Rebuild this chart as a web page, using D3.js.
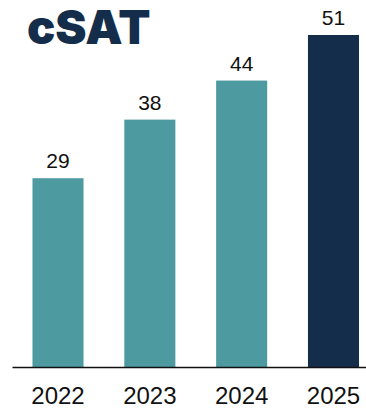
<!DOCTYPE html>
<meta charset="utf-8">
<style>
    body { margin: 0; background: #fff; }
    .title { font-family: Inter, "Liberation Sans", sans-serif; font-weight: 900; fill: #132d4a; }
    .val { font-family: "Liberation Sans", Arial, sans-serif; font-size: 21px; fill: #111; }
    .axis text { font-family: "Liberation Sans", Arial, sans-serif; font-size: 24px; fill: #111; }
    .axis path { stroke: #111; stroke-width: 1.5; }
</style>
<svg width="366" height="409"></svg>
<script src="https://d3js.org/d3.v7.min.js"></script>
<script>

    var years = ["2022", "2023", "2024", "2025"];
    var scores = [29, 38, 44, 51];
    var colors = ["#4e9aa1", "#4e9aa1", "#4e9aa1", "#142d4a"];

    var svg = d3.select("svg"),
        baseY = 367;

    var x = d3.scaleBand()
        .domain(years)
        .range([12, 379.5])
        .paddingInner(0.444)
        .paddingOuter(0.223);

    var y = d3.scaleLinear()
        .domain([0, 51])
        .range([baseY, 35]);

    svg.append("text")
        .attr("class", "title")
        .attr("x", 27)
        .attr("y", 44)
        .style("font-size", "47px")
        .text("cSAT");

    svg.selectAll("rect")
        .data(years)
        .enter().append("rect")
        .attr("x", function(d) { return x(d); })
        .attr("width", x.bandwidth())
        .attr("y", function(d, i) { return y(scores[i]); })
        .attr("height", function(d, i) { return baseY - y(scores[i]); })
        .attr("fill", function(d, i) { return colors[i]; });

    svg.selectAll(".val")
        .data(years)
        .enter().append("text")
        .attr("class", "val")
        .attr("text-anchor", "middle")
        .attr("x", function(d) { return x(d) + x.bandwidth() / 2; })
        .attr("y", function(d, i) { return y(scores[i]) - 10; })
        .text(function(d, i) { return scores[i]; });

    var axis = svg.append("g")
        .attr("class", "axis")
        .attr("transform", "translate(0," + baseY + ")")
        .call(d3.axisBottom(x).tickSize(0).tickSizeOuter(0).tickPadding(20));

    axis.selectAll("text").attr("dy", "0.71em");

</script>
